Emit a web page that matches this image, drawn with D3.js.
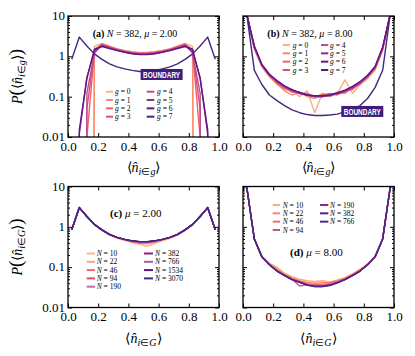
<!DOCTYPE html>
<html>
<head>
<meta charset="utf-8">
<script src="https://cdn.jsdelivr.net/npm/d3@7"></script>
<style>
  body { margin: 0; background: #fff; }
  svg text { font-family: "Liberation Serif", "Times New Roman", serif; fill: #000; }
</style>
</head>
<body>
<svg id="fig" width="415" height="356"></svg>
<script>
// bin centres of the histograms
const bins = [0.025, 0.075, 0.125, 0.175, 0.225, 0.275, 0.325, 0.375, 0.425, 0.475,
              0.525, 0.575, 0.625, 0.675, 0.725, 0.775, 0.825, 0.875, 0.925, 0.975]

const xTicks = [0, 0.2, 0.4, 0.6, 0.8, 1.0]
const xTickLabels = ['0.0', '0.2', '0.4', '0.6', '0.8', '1.0']
const yMajor = [0.01, 0.1, 1, 10]
const yTickLabels = ['0.01', '0.1', '1', '10']
const yMinor = [0.02, 0.03, 0.04, 0.05, 0.06, 0.07, 0.08, 0.09,
                0.2, 0.3, 0.4, 0.5, 0.6, 0.7, 0.8, 0.9,
                2, 3, 4, 5, 6, 7, 8, 9]

// panel (a): N = 382, mu = 2.00  (0 = empty bin)
const a_g0 = [0, 0, 0, 1.8, 2.1, 1.8, 1.55, 1.4, 1.3, 1.25, 1.25, 1.3, 1.4, 1.55, 1.8, 2.1, 1.8, 0, 0, 0]
const a_g1 = [0, 0, 0, 1.5, 2.05, 1.75, 1.5, 1.36, 1.28, 1.22, 1.24, 1.3, 1.38, 1.5, 1.75, 2.05, 1.5, 0, 0, 0]
const a_g2 = [0, 0, 0.01, 1.3, 2.0, 1.7, 1.5, 1.35, 1.25, 1.2, 1.2, 1.25, 1.35, 1.5, 1.7, 2.0, 1.3, 0.01, 0, 0]
const a_g3 = [0, 0, 0.05, 1.25, 1.95, 1.7, 1.45, 1.32, 1.22, 1.18, 1.18, 1.22, 1.32, 1.45, 1.7, 1.95, 1.25, 0.05, 0, 0]
const a_g4 = [0, 0, 0.12, 1.2, 1.9, 1.65, 1.45, 1.3, 1.2, 1.15, 1.15, 1.2, 1.3, 1.45, 1.65, 1.9, 1.2, 0.12, 0, 0]
const a_g5 = [0, 0.012, 0.3, 1.35, 1.85, 1.6, 1.42, 1.28, 1.18, 1.13, 1.13, 1.18, 1.28, 1.42, 1.6, 1.85, 1.35, 0.3, 0.012, 0]
const a_g6 = [0, 0.015, 0.28, 1.5, 1.75, 1.55, 1.38, 1.25, 1.16, 1.1, 1.1, 1.16, 1.25, 1.38, 1.55, 1.75, 1.5, 0.28, 0.015, 0]
const a_g7 = [0.85, 3.0, 1.8, 1.15, 0.84, 0.65, 0.55, 0.49, 0.45, 0.42, 0.42, 0.45, 0.49, 0.55, 0.65, 0.84, 1.15, 1.8, 3.0, 0.85]

// panel (b): N = 382, mu = 8.00
const b_g0 = [11, 1.5, 0.55, 0.31, 0.2, 0.15, 0.14, 0.1, 0.14, 0.04, 0.12, 0.1, 0.12, 0.26, 0.12, 0.2, 0.28, 0.45, 1.4, 11]
const b_g1 = [11, 1.6, 0.57, 0.32, 0.21, 0.14, 0.11, 0.13, 0.1, 0.09, 0.12, 0.1, 0.13, 0.12, 0.17, 0.2, 0.3, 0.5, 1.5, 11]
const b_g2 = [11, 1.6, 0.58, 0.33, 0.22, 0.16, 0.15, 0.12, 0.12, 0.1, 0.11, 0.12, 0.11, 0.14, 0.15, 0.22, 0.3, 0.5, 1.5, 11]
const b_g3 = [11, 1.65, 0.6, 0.34, 0.23, 0.17, 0.13, 0.13, 0.11, 0.1, 0.1, 0.11, 0.12, 0.13, 0.16, 0.21, 0.31, 0.52, 1.55, 11]
const b_g4 = [11, 1.7, 0.6, 0.34, 0.24, 0.18, 0.14, 0.12, 0.11, 0.1, 0.1, 0.105, 0.12, 0.135, 0.17, 0.22, 0.32, 0.53, 1.6, 11]
const b_g5 = [11, 1.75, 0.62, 0.35, 0.24, 0.18, 0.145, 0.125, 0.11, 0.1, 0.1, 0.11, 0.12, 0.14, 0.17, 0.23, 0.33, 0.55, 1.65, 11]
const b_g6 = [11, 1.8, 0.63, 0.36, 0.25, 0.185, 0.15, 0.125, 0.11, 0.105, 0.105, 0.11, 0.125, 0.145, 0.18, 0.235, 0.34, 0.56, 1.7, 11]
const b_g7 = [11, 0.45, 0.2, 0.11, 0.08, 0.06, 0.047, 0.04, 0.036, 0.034, 0.034, 0.035, 0.037, 0.042, 0.048, 0.06, 0.09, 0.17, 0.45, 11]

// panel (c): mu = 2.00, boundary group
const c_N10   = [0.85, 3.0, 1.8, 1.12, 0.82, 0.62, 0.52, 0.46, 0.4, 0.37, 0.33, 0.39, 0.45, 0.52, 0.62, 0.82, 1.12, 1.8, 3.0, 0.85]
const c_N22   = [0.86, 3.0, 1.8, 1.13, 0.83, 0.63, 0.53, 0.47, 0.42, 0.39, 0.38, 0.41, 0.47, 0.53, 0.63, 0.83, 1.13, 1.8, 3.0, 0.86]
const c_N46   = [0.86, 3.0, 1.82, 1.13, 0.83, 0.64, 0.54, 0.48, 0.43, 0.4, 0.4, 0.43, 0.48, 0.54, 0.64, 0.83, 1.13, 1.82, 3.0, 0.86]
const c_N94   = [0.85, 3.0, 1.8, 1.14, 0.84, 0.64, 0.55, 0.48, 0.44, 0.41, 0.41, 0.44, 0.48, 0.55, 0.64, 0.84, 1.14, 1.8, 3.0, 0.85]
const c_N190  = [0.85, 3.0, 1.8, 1.14, 0.84, 0.65, 0.55, 0.49, 0.44, 0.42, 0.42, 0.44, 0.49, 0.55, 0.65, 0.84, 1.14, 1.8, 3.0, 0.85]
const c_N382  = [0.85, 3.0, 1.8, 1.15, 0.84, 0.65, 0.55, 0.49, 0.45, 0.42, 0.42, 0.45, 0.49, 0.55, 0.65, 0.84, 1.15, 1.8, 3.0, 0.85]
const c_N766  = [0.85, 3.0, 1.8, 1.15, 0.84, 0.65, 0.55, 0.49, 0.45, 0.42, 0.42, 0.45, 0.49, 0.55, 0.65, 0.84, 1.15, 1.8, 3.0, 0.85]
const c_N1534 = [0.85, 3.0, 1.8, 1.15, 0.84, 0.65, 0.55, 0.49, 0.45, 0.43, 0.43, 0.45, 0.49, 0.55, 0.65, 0.84, 1.15, 1.8, 3.0, 0.85]
const c_N3070 = [0.85, 3.0, 1.8, 1.15, 0.84, 0.65, 0.55, 0.49, 0.45, 0.43, 0.43, 0.45, 0.49, 0.55, 0.65, 0.84, 1.15, 1.8, 3.0, 0.85]

// panel (d): mu = 8.00, boundary group
const d_N10  = [9.5, 0.5, 0.19, 0.125, 0.1, 0.07, 0.058, 0.05, 0.046, 0.044, 0.046, 0.043, 0.048, 0.055, 0.068, 0.09, 0.12, 0.19, 0.5, 9.5]
const d_N22  = [9.5, 0.5, 0.185, 0.12, 0.09, 0.067, 0.054, 0.046, 0.042, 0.04, 0.041, 0.042, 0.046, 0.053, 0.066, 0.085, 0.118, 0.185, 0.5, 9.5]
const d_N46  = [9.5, 0.5, 0.18, 0.118, 0.085, 0.064, 0.052, 0.044, 0.039, 0.037, 0.037, 0.04, 0.044, 0.051, 0.064, 0.083, 0.116, 0.18, 0.5, 9.5]
const d_N94  = [9.5, 0.5, 0.18, 0.115, 0.08, 0.063, 0.05, 0.034, 0.037, 0.035, 0.035, 0.037, 0.042, 0.05, 0.063, 0.08, 0.115, 0.18, 0.5, 9.5]
const d_N190 = [9.5, 0.5, 0.18, 0.115, 0.08, 0.063, 0.05, 0.043, 0.037, 0.034, 0.034, 0.036, 0.042, 0.05, 0.063, 0.08, 0.115, 0.18, 0.5, 9.5]
const d_N382 = [9.5, 0.5, 0.18, 0.115, 0.08, 0.062, 0.049, 0.042, 0.036, 0.033, 0.033, 0.036, 0.041, 0.049, 0.062, 0.08, 0.115, 0.18, 0.5, 9.5]
const d_N766 = [9.5, 0.5, 0.18, 0.115, 0.08, 0.062, 0.049, 0.042, 0.036, 0.033, 0.033, 0.035, 0.041, 0.049, 0.062, 0.08, 0.115, 0.18, 0.5, 9.5]

const gLabels = ['0', '1', '2', '3', '4', '5', '6', '7']
const gColors = ['#fcae85', '#f98a6a', '#f1606a', '#d9507a', '#bd4d92', '#8c2a8c', '#601688', '#45267f']
const cLabels = ['10', '22', '46', '94', '190', '382', '766', '1534', '3070']
const cColors = ['#fdb590', '#fba680', '#f26470', '#e04b78', '#cc68a6', '#8e2082', '#9c5cb0', '#5c1383', '#3e2a82']
const dLabels = ['10', '22', '46', '94', '190', '382', '766']
const dColors = ['#fdae80', '#f9845f', '#f26a73', '#c9508a', '#8b2a8a', '#5f1a88', '#4a2a88']

const W = 151, H = 121
const boxColor = '#3f1d78'

const panels = [
  { key: 'a', left: 68, top: 16, series: [a_g0, a_g1, a_g2, a_g3, a_g4, a_g5, a_g6, a_g7],
    colors: gColors, labels: gLabels, sym: 'g', yLabels: true,
    title: ['(a)', 'N', ' = 382, ', 'μ', ' = 2.00'], titlePos: [24.7, 20.5], titleSize: 10,
    legend: { cols: [[38, 45, 47], [78.7, 86.3, 89]], y0: 75.7, dy: 8.33, perCol: 4 },
    box: [0.62, 0.355] },
  { key: 'b', left: 243, top: 16, series: [b_g0, b_g1, b_g2, b_g3, b_g4, b_g5, b_g6, b_g7],
    colors: gColors, labels: gLabels, sym: 'g', yLabels: false,
    title: ['(b)', 'N', ' = 382, ', 'μ', ' = 8.00'], titlePos: [24.3, 20.5], titleSize: 10,
    legend: { cols: [[39.7, 47, 49.7], [78, 85.3, 87]], y0: 29, dy: 8.33, perCol: 4 },
    box: [0.79, 0.043] },
  { key: 'c', left: 68, top: 186.5, series: [c_N10, c_N22, c_N46, c_N94, c_N190, c_N382, c_N766, c_N1534, c_N3070],
    colors: cColors, labels: cLabels, sym: 'N', yLabels: true,
    title: ['(c)', '', '', 'μ', ' = 2.00'], titlePos: [42, 30.5], titleSize: 11,
    legend: { cols: [[18.7, 27, 28.7], [76, 85, 87]], y0: 67, dy: 8.3, perCol: 5 } },
  { key: 'd', left: 243, top: 186.5, series: [d_N10, d_N22, d_N46, d_N94, d_N190, d_N382, d_N766],
    colors: dColors, labels: dLabels, sym: 'N', yLabels: false,
    title: ['(d)', '', '', 'μ', ' = 8.00'], titlePos: [47, 69], titleSize: 11,
    legend: { cols: [[29.7, 37, 39.7], [77, 85.3, 87]], y0: 18.5, dy: 8.33, perCol: 4 } }
]

const svg = d3.select('#fig')

const x = d3.scaleLinear().domain([0, 1]).range([0, W])
const y = d3.scaleLog().domain([0.01, 10]).range([H, 0])

// empty bins are sent far below the axis, like a clipped log plot
const yv = v => v > 0 ? y(v) : y(1e-40)

const line = d3.line()
  .x((d, i) => x(bins[i]))
  .y(d => yv(d))

panels.forEach(p => {
  const g = svg.append('g').attr('transform', `translate(${p.left},${p.top})`)

  g.append('clipPath').attr('id', 'clip-' + p.key)
    .append('rect').attr('width', W).attr('height', H)

  // curves
  const plot = g.append('g').attr('clip-path', `url(#clip-${p.key})`)
  p.series.forEach((s, i) => {
    plot.append('path')
      .datum(s)
      .attr('fill', 'none')
      .attr('stroke', p.colors[i])
      .attr('stroke-width', 1.4)
      .attr('stroke-linejoin', 'round')
      .attr('d', line)
  })

  // boundary tag
  if (p.box) {
    const bx = x(p.box[0]), by = y(p.box[1])
    g.append('rect')
      .attr('x', bx - 21).attr('y', by - 5.5)
      .attr('width', 42).attr('height', 11)
      .attr('fill', boxColor)
    g.append('text')
      .attr('x', bx).attr('y', by + 3.4)
      .attr('text-anchor', 'middle')
      .attr('textLength', 37).attr('lengthAdjust', 'spacingAndGlyphs')
      .style('font-family', '"Liberation Sans Narrow", "Liberation Sans", sans-serif')
      .style('font-weight', 'bold').style('font-size', '9.5px').style('fill', '#fff')
      .text('BOUNDARY')
  }

  // axes, ticks pointing inwards
  const styleAxis = sel => {
    sel.select('.domain').remove()
    sel.selectAll('.tick line').attr('stroke', '#000').attr('stroke-width', 1)
    sel.selectAll('.tick text').style('font-size', '13px').style('font-family', '"Liberation Serif", serif')
  }

  g.append('g').attr('transform', `translate(0,${H})`)
    .call(d3.axisBottom(x).tickValues(xTicks).tickSize(-4).tickPadding(4.5)
      .tickFormat((d, i) => xTickLabels[i]))
    .call(styleAxis)
  g.append('g')
    .call(d3.axisTop(x).tickValues(xTicks).tickSize(-4).tickFormat(''))
    .call(styleAxis)

  g.append('g')
    .call(d3.axisLeft(y).tickValues(yMajor).tickSize(-4).tickPadding(3)
      .tickFormat((d, i) => p.yLabels ? yTickLabels[i] : ''))
    .call(styleAxis)
    .selectAll('.tick text').attr('dy', '0.28em')
  g.append('g')
    .call(d3.axisLeft(y).tickValues(yMinor).tickSize(-2).tickFormat(''))
    .call(styleAxis)
  g.append('g').attr('transform', `translate(${W},0)`)
    .call(d3.axisRight(y).tickValues(yMajor).tickSize(-4).tickFormat(''))
    .call(styleAxis)
  g.append('g').attr('transform', `translate(${W},0)`)
    .call(d3.axisRight(y).tickValues(yMinor).tickSize(-2).tickFormat(''))
    .call(styleAxis)

  // frame
  g.append('rect')
    .attr('width', W).attr('height', H)
    .attr('fill', 'none').attr('stroke', '#000').attr('stroke-width', 1.3)

  // panel title
  const t = g.append('text')
    .attr('x', p.titlePos[0]).attr('y', p.titlePos[1])
    .style('font-size', p.titleSize + 'px')
  t.append('tspan').style('font-weight', 'bold').text(p.title[0] + ' ')
  if (p.title[1]) {
    t.append('tspan').style('font-style', 'italic').text(p.title[1])
    t.append('tspan').text(p.title[2])
  }
  t.append('tspan').style('font-style', 'italic').text(p.title[3])
  t.append('tspan').text(p.title[4])

  // legend, filled column by column
  const lg = p.legend
  p.labels.forEach((lab, i) => {
    const col = Math.floor(i / lg.perCol)
    const row = i % lg.perCol
    const c = lg.cols[col]
    const ly = lg.y0 + row * lg.dy
    g.append('line')
      .attr('x1', c[0]).attr('x2', c[1])
      .attr('y1', ly).attr('y2', ly)
      .attr('stroke', p.colors[i]).attr('stroke-width', 2)
    const lt = g.append('text')
      .attr('x', c[2]).attr('y', ly + 2.6)
      .style('font-size', '7.5px')
    lt.append('tspan').style('font-style', 'italic').text(p.sym)
    lt.append('tspan').text(' = ' + lab)
  })

  // x axis title
  const sub = p.key === 'a' || p.key === 'b' ? 'g' : 'G'
  const xt = g.append('text')
    .attr('x', W / 2).attr('y', H + 35)
    .attr('text-anchor', 'middle')
    .style('font-size', '14px')
  xt.append('tspan').text('⟨')
  xt.append('tspan').style('font-style', 'italic').text('n\u0302')
  xt.append('tspan').attr('dy', 3).style('font-size', '10px').style('font-style', 'italic').text('i')
  xt.append('tspan').style('font-size', '10px').text('∈')
  xt.append('tspan').style('font-size', '10px').style('font-style', 'italic').text(sub)
  xt.append('tspan').attr('dy', -3).text('⟩')

  // y axis title on the left panels
  if (p.yLabels) {
    const yt = g.append('text')
      .attr('transform', `translate(${-46},${H / 2}) rotate(-90)`)
      .attr('text-anchor', 'middle')
      .style('font-size', '14px')
    yt.append('tspan').style('font-style', 'italic').text('P')
    yt.append('tspan').style('font-size', '19px').text('(')
    yt.append('tspan').text('⟨')
    yt.append('tspan').style('font-style', 'italic').text('n\u0302')
    yt.append('tspan').attr('dy', 3).style('font-size', '10px').style('font-style', 'italic').text('i')
    yt.append('tspan').style('font-size', '10px').text('∈')
    yt.append('tspan').style('font-size', '10px').style('font-style', 'italic').text(sub)
    yt.append('tspan').attr('dy', -3).text('⟩')
    yt.append('tspan').style('font-size', '19px').text(')')
  }
})
</script>
</body>
</html>
